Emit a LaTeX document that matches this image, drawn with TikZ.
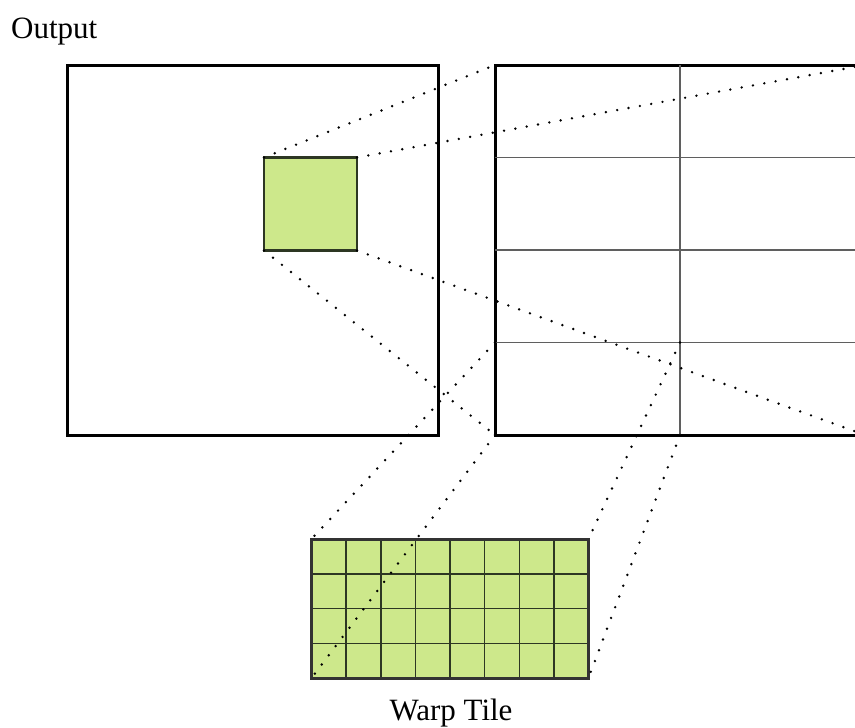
\documentclass[tikz,border=0pt]{standalone}
\usepackage{fontspec}
\setmainfont{Liberation Serif}
\definecolor{tilegreen}{RGB}{205,232,139}
\definecolor{gridgray}{RGB}{95,95,95}
\definecolor{tileline}{RGB}{45,55,35}
\begin{document}
\begin{tikzpicture}[x=1pt,y=-1pt,
  frame/.style={draw=black, line width=3pt, inner sep=0pt, outer sep=0pt, anchor=north west},
  block/.style={draw=tileline, fill=tilegreen, line width=2.4pt, inner sep=0pt, outer sep=0pt, anchor=north west},
  tilebox/.style={draw=black!80, fill=tilegreen, line width=3pt, inner sep=0pt, outer sep=0pt, anchor=north west},
  gridline/.style={draw=gridgray, line width=1.7pt},
  tilegrid/.style={draw=tileline, line width=1.5pt},
  dotline/.style={draw=black, line width=2.7pt, line cap=round, dash pattern=on 0pt off 11.5pt},
  label/.style={font=\fontsize{31}{36}\selectfont, inner sep=0pt}
]
\useasboundingbox (0,0) rectangle (855,728);

% output image with the selected block
\node[frame, minimum width=371pt, minimum height=370pt] (out) at (67,65) {};
\node[block, minimum width=93pt, minimum height=93pt] (blk) at (264,157.5) {};

% enlarged block, split into 2 x 4 cells
\node[frame, minimum width=370pt, minimum height=370pt] (grid) at (495,65) {};
\draw[gridline] (grid.north) -- (grid.south);
\foreach \k in {1,2,3} {
  \draw[gridline] ([yshift=-92.5*\k pt]grid.north west) -- ([yshift=-92.5*\k pt]grid.north east);
}
\coordinate (cellTL) at (495,342.5);
\coordinate (cellTR) at (680,342.5);

% warp tile, 8 x 4 elements
\node[tilebox, minimum width=277pt, minimum height=139pt] (tile) at (311.5,539) {};
\foreach \k in {1,...,7} {
  \draw[tilegrid] ([xshift=34.625*\k pt]tile.north west) -- ([xshift=34.625*\k pt]tile.south west);
}
\foreach \k in {1,2,3} {
  \draw[tilegrid] ([yshift=-34.75*\k pt]tile.north west) -- ([yshift=-34.75*\k pt]tile.north east);
}
\node[tilebox, fill=none, minimum width=277pt, minimum height=139pt] (tileframe) at (311.5,539) {};

% zoom guides
\draw[dotline] (blk.north west) -- (grid.north west);
\draw[dotline] (blk.north east) -- (grid.north east);
\draw[dotline] (blk.south west) -- (grid.south west);
\draw[dotline] (blk.south east) -- (grid.south east);
\draw[dotline] (cellTL) -- (tile.north west);
\draw[dotline] (grid.south west) -- (tile.south west);
\draw[dotline] (cellTR) -- (tile.north east);
\draw[dotline] (grid.south) -- (tile.south east);

% labels
\node[label, anchor=base west] (outlbl) at (11,38) {Output};
\node[label, anchor=base] (tilelbl) at (451,720) {Warp Tile};
\end{tikzpicture}
\end{document}
